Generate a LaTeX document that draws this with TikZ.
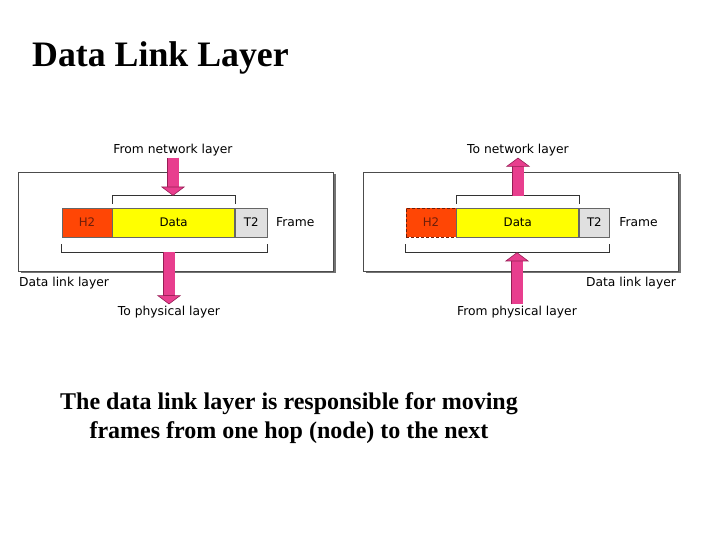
\documentclass[tikz,border=0pt]{standalone}
\usepackage{fontspec}
\setmainfont{Liberation Serif}
\newfontfamily\labelfont{DejaVu Sans}
\usepackage{tikz}
\usetikzlibrary{positioning, shadows, arrows.meta}

\definecolor{arrowpink}{RGB}{232,62,142}
\definecolor{arrowedge}{RGB}{150,30,85}
\definecolor{hcol}{RGB}{255,70,5}
\definecolor{hedge}{RGB}{110,30,10}
\definecolor{datacol}{RGB}{255,255,0}
\definecolor{tcol}{RGB}{224,224,224}

\tikzset{
    layerbox/.style={draw=black!70, fill=white, line width=0.8pt, minimum width=315pt, minimum height=99pt,
        drop shadow={shadow xshift=2.5pt, shadow yshift=-2.5pt, fill=black!55, opacity=1}},
    field/.style={draw=black!60, line width=0.6pt, minimum height=29pt, inner sep=0pt,
        font=\labelfont\fontsize{11.8}{13}\selectfont},
    lbl/.style={font=\labelfont\fontsize{12.3}{13}\selectfont, inner sep=1.5pt},
    bracket/.style={draw=black!80, line width=0.7pt},
    fatarrow/.style={line width=11pt, draw=arrowpink,
        preaction={draw=arrowedge, line width=12.2pt, -, shorten >=8pt},
        -{Triangle[width=24pt, length=9pt, line width=0.6pt, fill=arrowpink, color=arrowedge]}},
}

\begin{document}
\begin{tikzpicture}[x=1pt, y=1pt]
    \useasboundingbox (0,0) rectangle (720,540);

    % Titel
    \node[anchor=base west, inner sep=0pt, font=\bfseries\fontsize{35.8}{40}\selectfont] (title) at (32,473) {Data Link Layer};

    % Linke Seite: Sender
    \node[layerbox] (boxL) at (175.5,318.5) {};
    \node[field, fill=hcol, text=hedge, minimum width=50pt] (h2L) at (87,317.5) {H2};
    \node[field, fill=datacol, minimum width=122pt, right=0pt of h2L] (dataL) {Data};
    \node[field, fill=tcol, minimum width=32pt, right=0pt of dataL] (t2L) {T2};
    \node[lbl, right=7pt of t2L] (frameL) {Frame};
    \node[lbl] (fromNetL) at (173,390) {From network layer};
    \node[lbl] (toPhysL) at (169,228) {To physical layer};
    \node[lbl] (dllL) at (64,257) {Data link layer};

    \draw[bracket] ([yshift=4pt]dataL.north west) -- ++(0,8) -| ([yshift=4pt]dataL.north east);
    \draw[bracket] ([yshift=-7pt]h2L.south west) -- ++(0,-8) -| ([yshift=-7pt]t2L.south east);
    \coordinate[above=12pt of dataL.north] (brTopL);
    \coordinate[below=15pt of dataL.south] (brBotL);

    \draw[fatarrow] (fromNetL.south) -- (fromNetL |- brTopL);
    \draw[fatarrow] (toPhysL |- brBotL) -- (toPhysL.north);

    % Rechte Seite: Empfaenger
    \node[layerbox] (boxR) at (520.5,318.5) {};
    \node[field, fill=hcol, text=hedge, draw=hedge, densely dashed, line width=0.9pt, minimum width=50pt] (h2R) at (431,317.5) {H2};
    \node[field, fill=datacol, minimum width=122pt, right=0pt of h2R] (dataR) {Data};
    \node[field, fill=tcol, minimum width=30pt, right=0pt of dataR] (t2R) {T2};
    \node[lbl, right=8pt of t2R] (frameR) {Frame};
    \node[lbl] (toNetR) at (518,390) {To network layer};
    \node[lbl] (fromPhysR) at (517,228) {From physical layer};
    \node[lbl] (dllR) at (631,257) {Data link layer};

    \draw[bracket] ([yshift=4pt]dataR.north west) -- ++(0,8) -| ([yshift=4pt]dataR.north east);
    \draw[bracket] ([yshift=-7pt]h2R.south west) -- ++(0,-8) -| ([yshift=-7pt]t2R.south east);
    \coordinate[above=12pt of dataR.north] (brTopR);
    \coordinate[below=15pt of dataR.south] (brBotR);

    \draw[fatarrow] (toNetR |- brTopR) -- (toNetR.south);
    \draw[fatarrow] (fromPhysR.north) -- (fromPhysR |- brBotR);

    % Text unten
    \node[align=center, inner sep=0pt, font=\bfseries\fontsize{24}{29}\selectfont] (caption) at (289,121.5)
        {The data link layer is responsible for moving\\frames from one hop (node) to the next};
\end{tikzpicture}
\end{document}
